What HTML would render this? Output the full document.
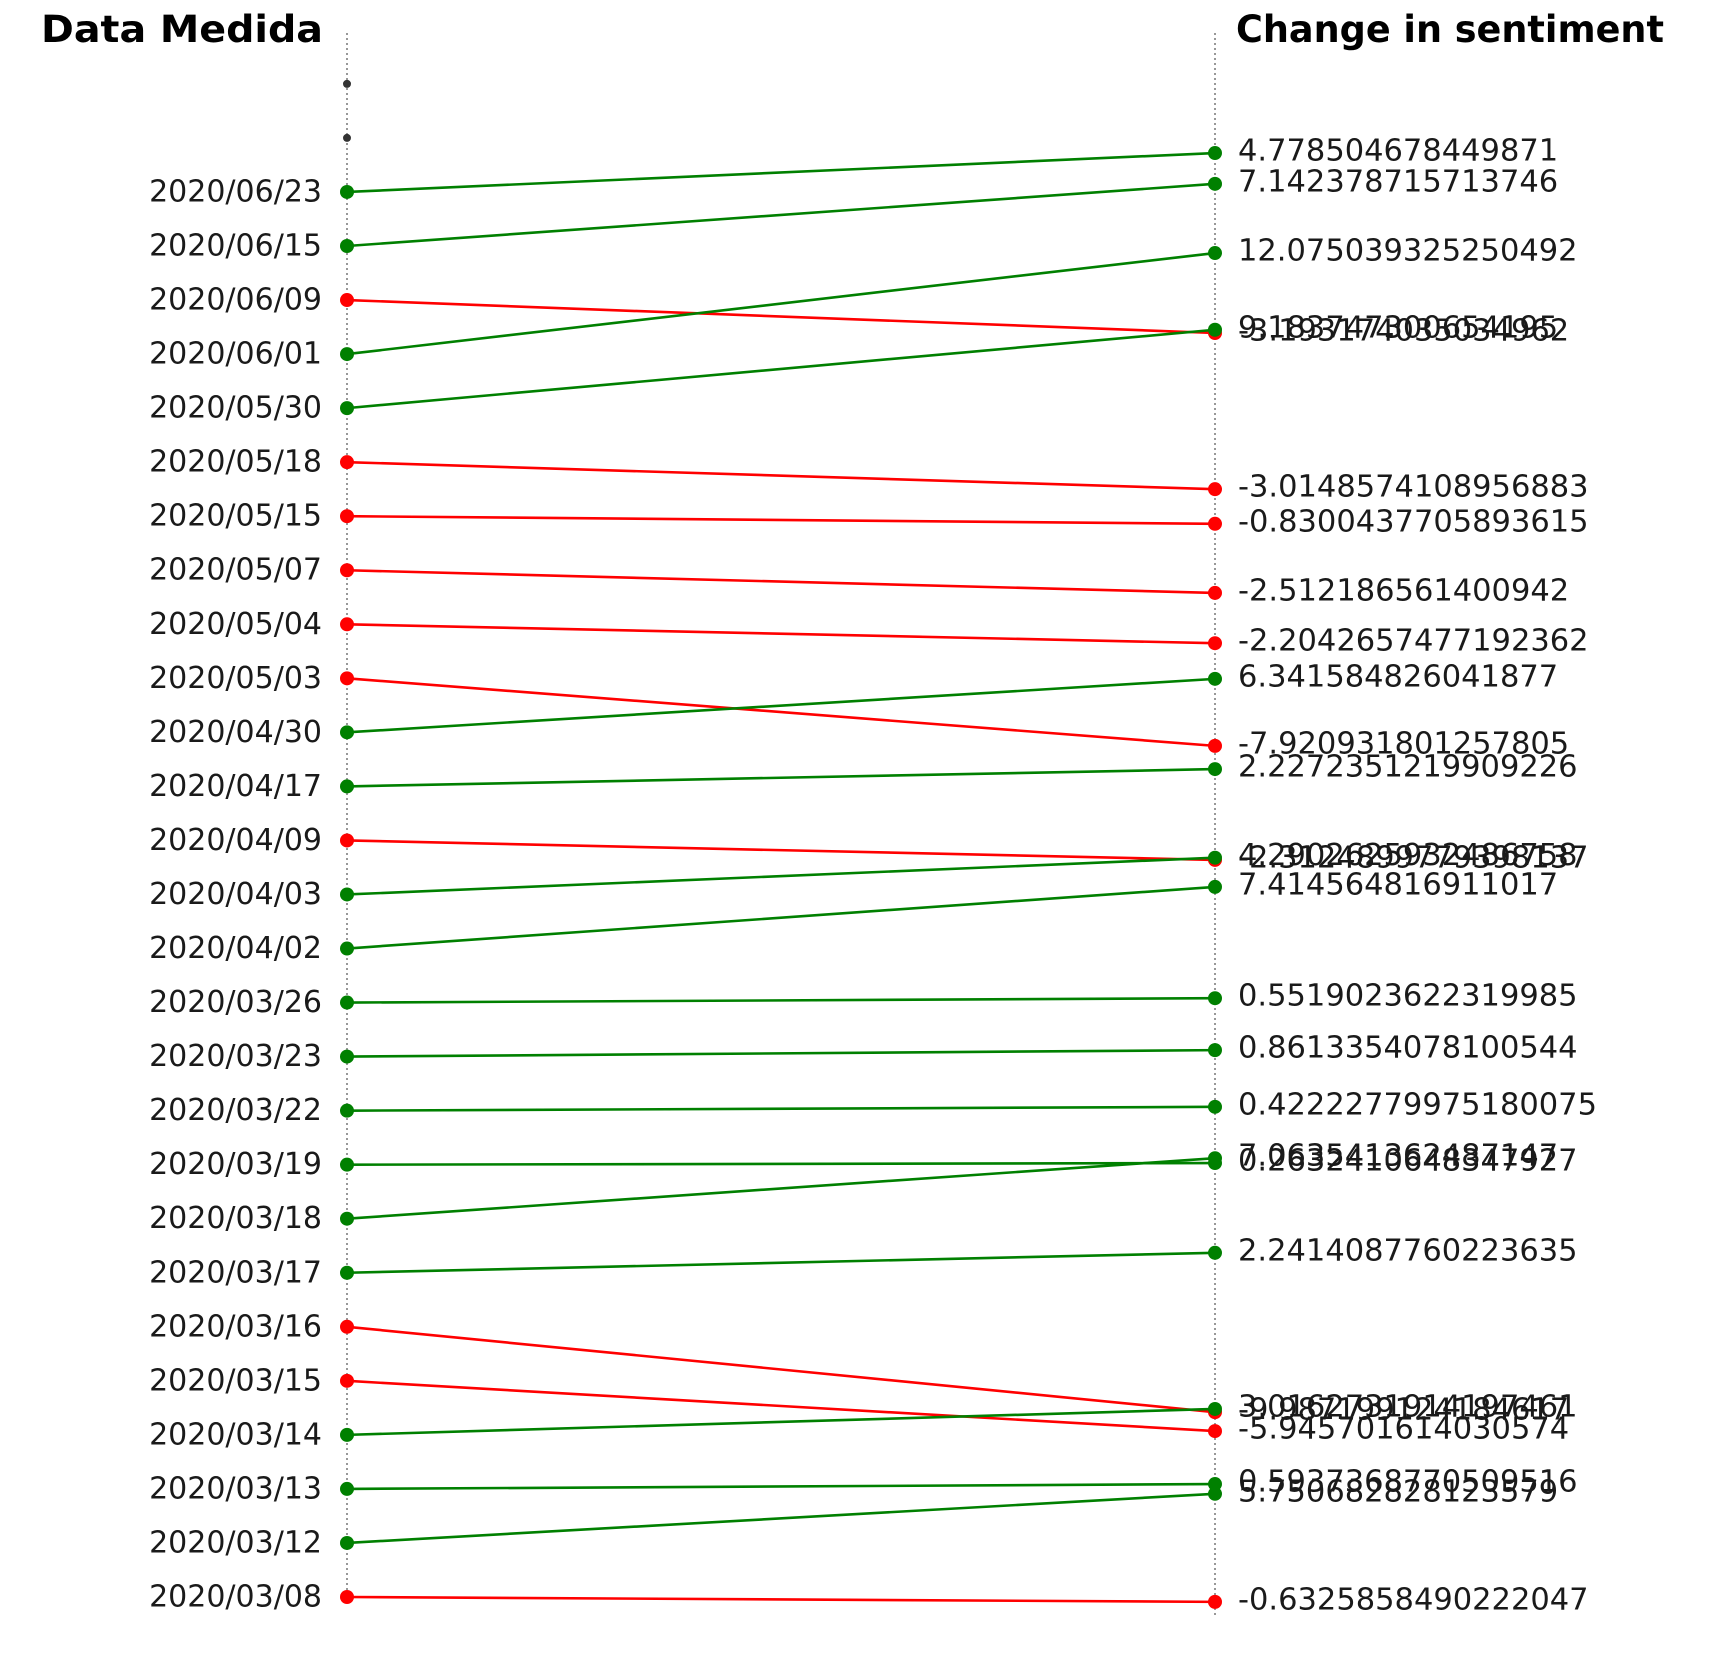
<!DOCTYPE html>
<html><head><meta charset="utf-8"><style>
html,body{margin:0;padding:0;background:#fff;}
svg{display:block;}
text{font-family:"DejaVu Sans","Liberation Sans",sans-serif;fill:#1a1a1a;}
</style></head><body>
<svg id="chart" width="1718" height="1666" viewBox="0 0 1718 1666" xmlns="http://www.w3.org/2000/svg">
<line x1="347" y1="33" x2="347" y2="1590" stroke="#777" stroke-width="1.5" stroke-dasharray="2,3"/>
<line x1="1215" y1="33" x2="1215" y2="1615" stroke="#777" stroke-width="1.5" stroke-dasharray="2,3"/>
<text x="323" y="42" text-anchor="end" font-weight="bold" font-size="37" textLength="282" lengthAdjust="spacingAndGlyphs" style="fill:#000">Data Medida</text>
<text x="1236" y="42" font-weight="bold" font-size="37" textLength="428" lengthAdjust="spacingAndGlyphs" style="fill:#000">Change in sentiment</text>
<g id="marks"></g>
</svg>
<script>
const dates = ["2020/06/23","2020/06/15","2020/06/09","2020/06/01","2020/05/30","2020/05/18","2020/05/15","2020/05/07","2020/05/04","2020/05/03","2020/04/30","2020/04/17","2020/04/09","2020/04/03","2020/04/02","2020/03/26","2020/03/23","2020/03/22","2020/03/19","2020/03/18","2020/03/17","2020/03/16","2020/03/15","2020/03/14","2020/03/13","2020/03/12","2020/03/08"];
const leftPos = [26,25,24,23,22,21,20,19,18,17,16,15,14,13,12,11,10,9,8,7,6,5,4,3,2,1,0];
const rightPos = [26.72,26.15,23.39,24.87,23.45,20.50,19.86,18.58,17.65,15.75,16.99,15.32,13.64,13.68,13.14,11.08,10.12,9.07,8.03,8.12,6.37,3.42,3.07,3.48,2.09,1.91,-0.09];
const changes = ["4.778504678449871","7.142378715713746","-3.193174035034962","12.075039325250492","9.183747300654195","-3.0148574108956883","-0.8300437705893615","-2.512186561400942","-2.2042657477192362","-7.920931801257805","6.341584826041877","2.2272351219909226","-2.3124899779398137","4.2902625932486758","7.414564816911017","0.5519023622319985","0.8613354078100544","0.42222779975180075","0.2632410648347927","7.063541362487147","2.2414087760223635","-9.987199124184617","-5.945701614030574","3.0162731914197461","0.5937368770509516","5.750682828123579","-0.6325858490222047"];
const emptyPos = [27,28];

const XL = 347, XR = 1215;
function yScale(v){ return 1597 - v*54.04; }
const NS = "http://www.w3.org/2000/svg";
const g = document.getElementById('marks');
function mk(tag, attrs){ const e=document.createElementNS(NS,tag); for(const k in attrs) e.setAttribute(k,attrs[k]); g.appendChild(e); return e; }

emptyPos.forEach(p=>{
  const c = mk('circle',{cx:XL, cy:yScale(p), r:4, fill:'#333'});
  
  
});

dates.forEach((d,i)=>{
  const val = parseFloat(changes[i]);
  const col = val >= 0 ? '#008000' : '#ff0000';
  const y1 = yScale(leftPos[i]), y2 = yScale(rightPos[i]);
  const ln = mk('line',{x1:XL,y1:y1,x2:XR,y2:y2,stroke:col,'stroke-width':2.6});
  
  
  const c1 = mk('circle',{cx:XL,cy:y1,r:7,fill:col});
  
  
  const c2 = mk('circle',{cx:XR,cy:y2,r:7,fill:col});
  
  
  const t1 = mk('text',{x:322,y:y1,'text-anchor':'end','dominant-baseline':'central','font-size':30});
  t1.textContent = d;
  
  
  const t2 = mk('text',{x:1238,y:y2-2,'dominant-baseline':'central','font-size':30.5});
  t2.textContent = changes[i];
  
  
});
</script>
</body></html>
